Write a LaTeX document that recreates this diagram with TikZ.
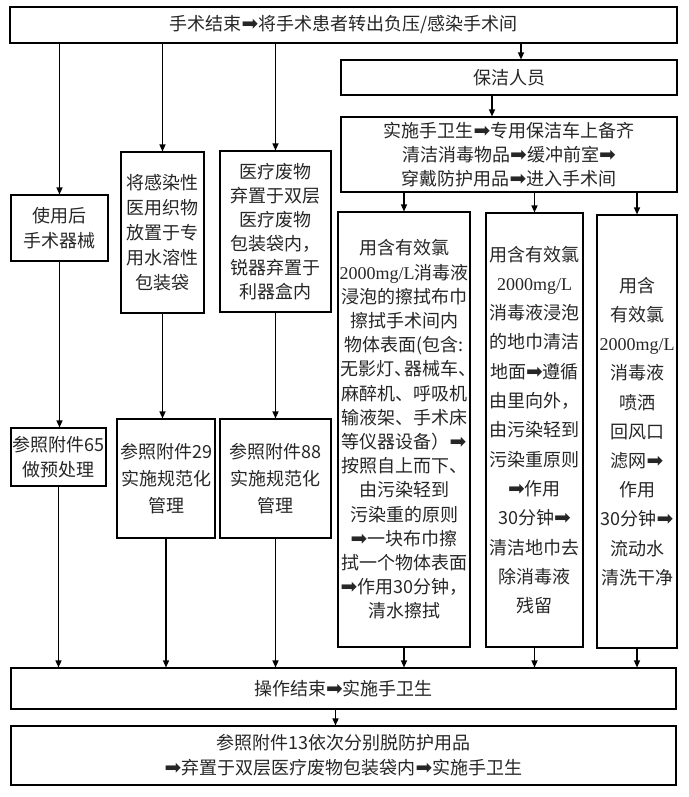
\documentclass[tikz,border=0pt]{standalone}
\usepackage{fontspec}
\setmainfont{Noto Sans CJK SC}
\newfontfamily\djv{DejaVu Sans}
\newfontfamily\lser{Liberation Serif}
\newcommand{\myarr}{{\djv\fontsize{20}{20}\selectfont\char"27A1}}
\newcommand{\mgl}{{\lser 2000mg/L}}
\newcommand{\setfs}[2]{\fontsize{#1}{#2}\selectfont}
\usetikzlibrary{arrows.meta}
\begin{document}
\begin{tikzpicture}[x=1pt,y=-1pt,
  box/.style={draw, line width=1.1pt, inner sep=0pt, align=center, text=black!85},
  arr/.style={line width=1.3pt, -{Triangle[length=7pt,width=6pt]}}]
\useasboundingbox (0,0) rectangle (688,797);
% boxes
\node[box, minimum width=667pt, minimum height=36pt, font=\setfs{18}{24}] (top) at (343.5,25)
  {手术结束\myarr 将手术患者转出负压/感染手术间};
\node[box, minimum width=336pt, minimum height=35pt, font=\setfs{18}{24}] (bj) at (509,77.5) {保洁人员};
\node[box, minimum width=336pt, minimum height=75pt, font=\setfs{18}{24}] (ss) at (509,154.5)
  {实施手卫生\myarr 专用保洁车上备齐\\清洁消毒物品\myarr 缓冲前室\myarr\\穿戴防护用品\myarr 进入手术间};
\node[box, minimum width=132pt, minimum height=435pt, font=\setfs{18}{24.2}] (b1) at (404,429.5)
  {用含有效氯\\\mgl 消毒液\\浸泡的擦拭布巾\\擦拭手术间内\\物体表面(包含:\\无影灯、\kern-0.4em 器械车、\kern-0.5em\\麻醉机、呼吸机\\输液架、手术床\\等仪器设备）\myarr\\按照自上而下、\\由污染轻到\\污染重的原则\\\myarr 一块布巾擦\\拭一个物体表面\\\myarr 作用30分钟，\\清水擦拭};
\node[box, minimum width=97pt, minimum height=434pt, font=\setfs{18}{29.3}] (b2) at (534.5,430)
  {用含有效氯\\\mgl\\消毒液浸泡\\的地巾清洁\\地面\myarr 遵循\\由里向外，\\由污染轻到\\污染重原则\\\myarr 作用\\30分钟\myarr\\清洁地巾去\\除消毒液\\残留};
\node[box, minimum width=80pt, minimum height=433pt, font=\setfs{18}{29.2}] (b3) at (637,431.5)
  {用含\\有效氯\\\mgl\\消毒液\\喷洒\\回风口\\滤网\myarr\\作用\\30分钟\myarr\\流动水\\清洗干净};
\node[box, minimum width=97pt, minimum height=66pt, font=\setfs{18}{24.5}] (L1) at (59.5,228) {使用后\\手术器械};
\node[box, minimum width=83pt, minimum height=161pt, font=\setfs{18}{25}] (L2) at (162.5,232.5)
  {将感染性\\医用织物\\放置于专\\用水溶性\\包装袋};
\node[box, minimum width=111pt, minimum height=161pt, font=\setfs{18}{24}] (L3) at (275.5,231.5)
  {医疗废物\\弃置于双层\\医疗废物\\包装袋内，\\锐器弃置于\\利器盒内};
\node[box, minimum width=95pt, minimum height=58pt, font=\setfs{18}{25}] (M1) at (58.5,457) {参照附件65\\做预处理};
\node[box, minimum width=98pt, minimum height=119pt, font=\setfs{18}{27}] (M2) at (166,478.5) {参照附件29\\实施规范化\\管理};
\node[box, minimum width=111pt, minimum height=119pt, font=\setfs{18}{27}] (M3) at (275.5,478.5) {参照附件88\\实施规范化\\管理};
\node[box, minimum width=665pt, minimum height=41pt, font=\setfs{18}{24}] (end) at (343.5,688.5) {操作结束\myarr 实施手卫生};
\node[box, minimum width=665pt, minimum height=59pt, font=\setfs{18}{25}] (fin) at (343.5,755.5)
  {参照附件13依次分别脱防护用品\\\myarr 弃置于双层医疗废物包装袋内\myarr 实施手卫生};
% connectors
\draw[arr] (top.south -| L1.north) -- (L1.north);
\draw[arr] (top.south -| L2.north) -- (L2.north);
\draw[arr] (top.south -| L3.north) -- (L3.north);
\coordinate (c1) at ([xshift=12pt]bj.north);
\draw[arr] (c1 |- top.south) -- (c1);
\coordinate (c2) at ([xshift=-17pt]ss.north);
\draw[arr] (c2 |- bj.south) -- (c2);
\draw[arr] (ss.south -| b1.north) -- (b1.north);
\draw[arr] (ss.south -| b2.north) -- (b2.north);
\draw[arr] (ss.south -| b3.north) -- (b3.north);
\draw[arr] (L1.south) -- (L1.south |- M1.north);
\draw[arr] (L2.south) -- (L2.south |- M2.north);
\draw[arr] (L3.south) -- (M3.north);
\draw[arr] (M1.south) -- (M1.south |- end.north);
\draw[arr] (M2.south) -- (M2.south |- end.north);
\draw[arr] (M3.south) -- (M3.south |- end.north);
\draw[arr] (b1.south) -- (b1.south |- end.north);
\draw[arr] (b2.south) -- (b2.south |- end.north);
\draw[arr] (b3.south) -- (b3.south |- end.north);
\coordinate (c3) at ([xshift=-8pt]end.south);
\draw[arr] (c3) -- (c3 |- fin.north);
\end{tikzpicture}
\end{document}
